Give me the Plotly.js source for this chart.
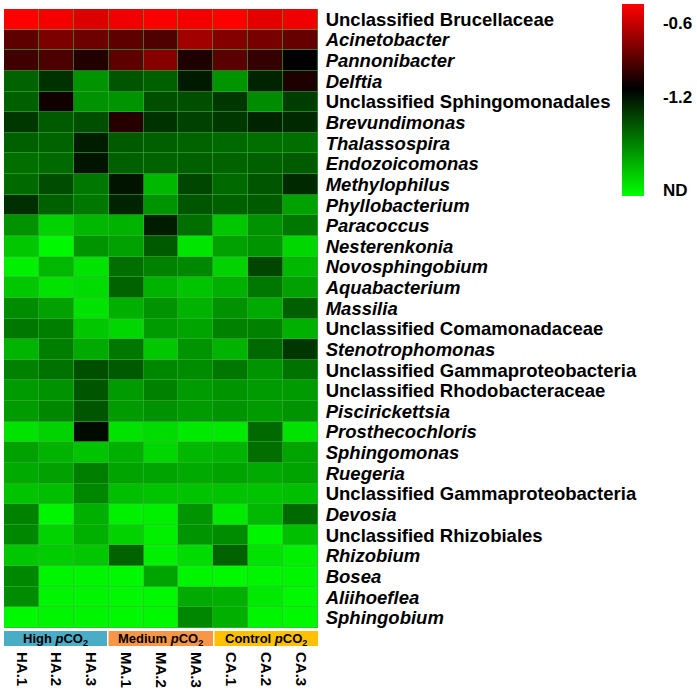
<!DOCTYPE html>
<html><head><meta charset="utf-8">
<script src="https://cdn.plot.ly/plotly-3.0.1.min.js"></script>
<style>html,body{margin:0;padding:0;background:#fff}#plot{width:697px;height:692px}</style>
</head><body><div id="plot"></div>
<script>
const samples = ['HA.1','HA.2','HA.3','MA.1','MA.2','MA.3','CA.1','CA.2','CA.3'];
const taxa = ['Unclassified Brucellaceae','<i>Acinetobacter</i>','<i>Pannonibacter</i>','<i>Delftia</i>','Unclassified Sphingomonadales','<i>Brevundimonas</i>','<i>Thalassospira</i>','<i>Endozoicomonas</i>','<i>Methylophilus</i>','<i>Phyllobacterium</i>','<i>Paracoccus</i>','<i>Nesterenkonia</i>','<i>Novosphingobium</i>','<i>Aquabacterium</i>','<i>Massilia</i>','Unclassified Comamonadaceae','<i>Stenotrophomonas</i>','Unclassified Gammaproteobacteria','Unclassified Rhodobacteraceae','<i>Piscirickettsia</i>','<i>Prosthecochloris</i>','<i>Sphingomonas</i>','<i>Ruegeria</i>','Unclassified Gammaproteobacteria','<i>Devosia</i>','Unclassified Rhizobiales','<i>Rhizobium</i>','<i>Bosea</i>','<i>Aliihoeflea</i>','<i>Sphingobium</i>'];
const groups = ['High <i>p</i>CO<sub>2</sub>','Medium <i>p</i>CO<sub>2</sub>','Control <i>p</i>CO<sub>2</sub>'];
const groupColors = ['rgb(75,172,198)','rgb(247,150,70)','rgb(255,192,0)'];
const colorTickVals = [-0.6,-1.2,-1.95];
const colorTickText = ['-0.6','-1.2','ND'];
const abundance = [
[-0.45,-0.48,-0.54,-0.49,-0.46,-0.48,-0.45,-0.52,-0.49],
[-0.88,-0.80,-0.84,-0.88,-0.92,-0.70,-0.78,-0.81,-0.86],
[-0.96,-0.93,-1.04,-0.88,-0.77,-1.05,-0.89,-0.99,-1.13],
[-1.47,-1.30,-1.64,-1.42,-1.46,-1.22,-1.64,-1.25,-1.05],
[-1.46,-1.09,-1.63,-1.64,-1.40,-1.40,-1.32,-1.61,-1.34],
[-1.32,-1.44,-1.40,-1.03,-1.30,-1.35,-1.32,-1.25,-1.27],
[-1.46,-1.47,-1.23,-1.44,-1.46,-1.47,-1.49,-1.51,-1.51],
[-1.51,-1.49,-1.20,-1.46,-1.47,-1.46,-1.47,-1.46,-1.44],
[-1.49,-1.39,-1.54,-1.20,-1.76,-1.37,-1.49,-1.42,-1.27],
[-1.29,-1.46,-1.54,-1.25,-1.64,-1.42,-1.46,-1.44,-1.68],
[-1.63,-1.85,-1.76,-1.74,-1.23,-1.51,-1.81,-1.63,-1.54],
[-1.81,-1.98,-1.64,-1.68,-1.44,-1.91,-1.68,-1.64,-1.86],
[-1.95,-1.76,-1.90,-1.51,-1.57,-1.59,-1.85,-1.37,-1.76],
[-1.81,-1.90,-1.88,-1.47,-1.74,-1.80,-1.73,-1.54,-1.68],
[-1.61,-1.68,-1.90,-1.73,-1.64,-1.74,-1.63,-1.71,-1.46],
[-1.54,-1.56,-1.81,-1.86,-1.66,-1.69,-1.57,-1.57,-1.73],
[-1.74,-1.56,-1.71,-1.54,-1.81,-1.64,-1.74,-1.49,-1.32],
[-1.57,-1.52,-1.40,-1.44,-1.59,-1.61,-1.54,-1.64,-1.52],
[-1.66,-1.63,-1.42,-1.66,-1.57,-1.66,-1.64,-1.66,-1.66],
[-1.66,-1.59,-1.42,-1.66,-1.63,-1.66,-1.64,-1.66,-1.64],
[-1.90,-1.85,-1.17,-1.90,-1.88,-1.93,-1.93,-1.49,-1.90],
[-1.68,-1.74,-1.80,-1.73,-1.86,-1.76,-1.74,-1.51,-1.69],
[-1.71,-1.68,-1.56,-1.69,-1.69,-1.71,-1.69,-1.71,-1.69],
[-1.80,-1.78,-1.59,-1.78,-1.80,-1.80,-1.80,-1.80,-1.78],
[-1.57,-1.97,-1.73,-1.95,-1.95,-1.64,-1.93,-1.76,-1.49],
[-1.59,-1.85,-1.73,-1.85,-1.95,-1.64,-1.61,-1.97,-1.78],
[-1.81,-1.83,-1.81,-1.47,-1.95,-1.88,-1.47,-1.90,-1.95],
[-1.59,-1.97,-1.97,-1.98,-1.69,-1.97,-1.98,-1.97,-1.97],
[-1.61,-1.97,-1.97,-1.98,-1.98,-1.71,-1.73,-1.93,-1.98],
[-1.98,-1.97,-1.97,-1.98,-1.98,-1.59,-1.73,-1.97,-1.98]
];

const W = 697, H = 692;
const px = v => v / W, py = v => 1 - v / H;
const font = 'Arial, "Liberation Sans", sans-serif';
const xIdx = samples.map((s, i) => i);
const yIdx = taxa.map((t, i) => i);

const trace = {
  type: 'heatmap', z: abundance, x: xIdx, y: yIdx,
  zmin: -2.0, zmax: -0.45,
  colorscale: [[0, 'rgb(0,255,0)'], [0.56, 'rgb(0,0,0)'], [1, 'rgb(255,0,0)']],
  xgap: 0.6, ygap: 0.6,
  colorbar: {
    x: px(622), xanchor: 'left', xpad: 0,
    y: py(4), yanchor: 'top', ypad: 0,
    len: 192 / H, lenmode: 'fraction', thickness: 22,
    outlinewidth: 0,
    tickvals: colorTickVals, ticktext: colorTickText,
    ticks: 'outside', ticklen: 16, tickcolor: 'rgba(0,0,0,0)',
    tickfont: {family: font, size: 17, color: '#000', weight: 'bold'}
  },
  hoverinfo: 'skip'
};

const shapes = [], annotations = [];
const bounds = [[4, 107], [108.5, 213], [214.5, 318]];
bounds.forEach((b, i) => {
  shapes.push({type: 'rect', xref: 'paper', yref: 'paper', x0: px(b[0]), x1: px(b[1]), y0: py(646), y1: py(631), fillcolor: groupColors[i], line: {width: 0}});
  annotations.push({xref: 'paper', yref: 'paper', x: px((b[0] + b[1]) / 2), y: py(639), text: '<b>' + groups[i] + '</b>', showarrow: false, xanchor: 'center', yanchor: 'middle', font: {family: font, size: 13, color: '#000'}});
});

const layout = {
  width: W, height: H,
  margin: {l: 0, r: 0, t: 0, b: 0},
  paper_bgcolor: '#fff', plot_bgcolor: 'rgb(60,180,60)',
  xaxis: {
    domain: [px(4), px(318)], range: [-0.5, 8.5],
    tickvals: xIdx, ticktext: samples.map(s => '<b>' + s + '</b>'),
    tickangle: 90, ticks: 'outside', ticklen: 20, tickcolor: 'rgba(0,0,0,0)',
    tickfont: {family: font, size: 15, color: '#000'},
    showgrid: false, zeroline: false, showline: false, fixedrange: true
  },
  yaxis: {
    domain: [py(628), py(9)], range: [29.5, -0.5], side: 'right',
    tickvals: yIdx, ticktext: taxa.map(t => '<b>' + t + '</b>'),
    ticks: 'outside', ticklen: 3, tickcolor: 'rgba(0,0,0,0)',
    tickfont: {family: font, size: 18.5, color: '#000'},
    showgrid: false, zeroline: false, showline: false, fixedrange: true
  },
  shapes: shapes, annotations: annotations, showlegend: false
};

Plotly.newPlot('plot', [trace], layout, {displayModeBar: false, staticPlot: true});
</script></body></html>
